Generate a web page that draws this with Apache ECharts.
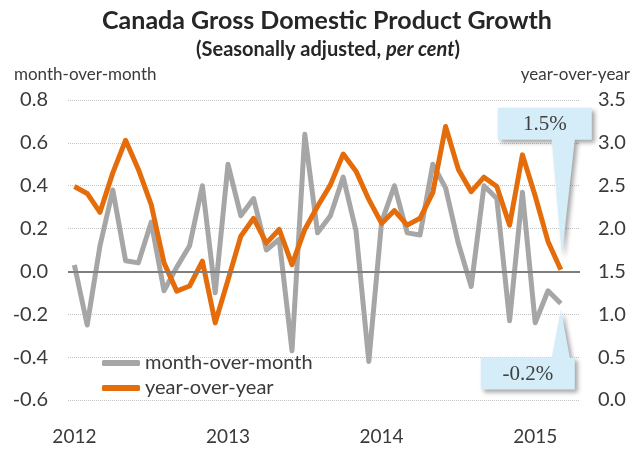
<!DOCTYPE html>
<html>
<head>
<meta charset="utf-8">
<script src="https://cdn.jsdelivr.net/npm/echarts@6/dist/echarts.min.js"></script>
<style>
  html, body { margin: 0; padding: 0; background: #fff; }
  #chart { width: 638px; height: 449px; }
</style>
</head>
<body>
<div id="chart"></div>
<script>
// monthly, Jan 2012 .. Apr 2015 (last slot left empty like the original)
const months = [
  "2012-01","2012-02","2012-03","2012-04","2012-05","2012-06","2012-07","2012-08","2012-09","2012-10","2012-11","2012-12",
  "2013-01","2013-02","2013-03","2013-04","2013-05","2013-06","2013-07","2013-08","2013-09","2013-10","2013-11","2013-12",
  "2014-01","2014-02","2014-03","2014-04","2014-05","2014-06","2014-07","2014-08","2014-09","2014-10","2014-11","2014-12",
  "2015-01","2015-02","2015-03","2015-04"
];
// month-over-month, left axis
const momValues = [0.03,-0.25,0.12,0.38,0.05,0.04,0.23,-0.09,0.02,0.12,0.40,-0.10,
  0.50,0.26,0.34,0.10,0.15,-0.37,0.64,0.18,0.26,0.44,0.19,-0.42,
  0.23,0.40,0.18,0.17,0.50,0.39,0.13,-0.07,0.40,0.34,-0.23,0.37,
  -0.24,-0.09,-0.15];
// year-over-year, right axis
const yoyValues = [2.49,2.41,2.19,2.65,3.03,2.69,2.28,1.60,1.27,1.33,1.62,0.90,
  1.40,1.91,2.12,1.83,1.99,1.58,1.99,2.26,2.51,2.87,2.67,2.34,
  2.06,2.21,2.04,2.12,2.42,3.19,2.69,2.43,2.60,2.49,2.04,2.86,
  2.38,1.85,1.52];
const seriesNames = ["month-over-month", "year-over-year"];
const calloutLabels = ["1.5%", "-0.2%"];

const FONT = "Lato";
const TXT = "#3a3a3a";
const HEAD = "#262626";
const GRAY = "#a6a6a6";
const ORANGE = "#e46c0a";

const chart = echarts.init(document.getElementById("chart"));

chart.setOption({
  animation: false,
  title: [
    {
      text: "Canada Gross Domestic Product Growth",
      left: 322, top: 3, textAlign: "center",
      textStyle: { fontFamily: FONT, fontSize: 25, fontWeight: "bold", color: HEAD }
    },
    {
      text: "{n|(Seasonally adjusted, }{i|per cent}{n|)}",
      left: 323, top: 35, textAlign: "center",
      textStyle: {
        rich: {
          n: { fontFamily: FONT, fontSize: 20, fontWeight: "bold", color: HEAD },
          i: { fontFamily: FONT, fontSize: 20, fontWeight: "bold", fontStyle: "italic", color: HEAD }
        }
      }
    },
    {
      text: seriesNames[0], left: 9, top: 61,
      textStyle: { fontFamily: FONT, fontSize: 17, fontWeight: "normal", color: TXT }
    },
    {
      text: seriesNames[1], right: 3, top: 61,
      textStyle: { fontFamily: FONT, fontSize: 17, fontWeight: "normal", color: TXT }
    }
  ],
  grid: { left: 68, right: 58, top: 100, bottom: 49 },
  legend: {
    left: 97, top: 348, orient: "vertical", itemGap: 5,
    itemWidth: 38, itemHeight: 6, icon: "roundRect",
    selectedMode: false,
    textStyle: { fontFamily: FONT, fontSize: 20, color: TXT },
    data: seriesNames
  },
  xAxis: {
    type: "category",
    data: months,
    boundaryGap: true,
    axisLine: { show: false },
    axisTick: { show: false },
    axisLabel: {
      interval: (idx) => idx % 12 === 0,
      formatter: (v) => v.slice(0, 4),
      margin: 27,
      fontFamily: FONT, fontSize: 19, color: TXT
    }
  },
  yAxis: [
    {
      type: "value", min: -0.6, max: 0.8, interval: 0.2,
      axisLine: { show: false }, axisTick: { show: false },
      axisLabel: {
        formatter: (v) => v.toFixed(1), margin: 20,
        fontFamily: FONT, fontSize: 20, color: TXT
      },
      splitLine: { lineStyle: { type: "dotted", color: "#c4c4c4", width: 1 } }
    },
    {
      type: "value", min: 0, max: 3.5, interval: 0.5,
      axisLine: { show: false }, axisTick: { show: false },
      axisLabel: {
        formatter: (v) => v.toFixed(1), margin: 18,
        fontFamily: FONT, fontSize: 20, color: TXT
      },
      splitLine: { show: false }
    }
  ],
  series: [
    {
      name: seriesNames[0], type: "line", yAxisIndex: 0,
      data: momValues, showSymbol: false, symbol: "none",
      color: GRAY,
      lineStyle: { width: 5, color: GRAY, join: "round" },
      z: 3,
      markLine: {
        silent: true, symbol: "none", label: { show: false },
        lineStyle: { type: "solid", color: "#7f7f7f", width: 2 },
        data: [{ yAxis: 0 }]
      }
    },
    {
      name: seriesNames[1], type: "line", yAxisIndex: 1,
      data: yoyValues, showSymbol: false, symbol: "none",
      color: ORANGE,
      lineStyle: { width: 5, color: ORANGE, join: "round" },
      z: 4
    }
  ]
});

// callouts anchored to the last data points
function callout(tip, boxDx, boxDy, boxW, boxH, baseX0, baseX1, down, label) {
  const bx = tip[0] + boxDx, by = tip[1] + boxDy;
  let pts;
  if (down) {
    // box above, tail pointing down to tip
    pts = [[bx, by], [bx + boxW, by], [bx + boxW, by + boxH],
      [tip[0] + baseX1, by + boxH], tip, [tip[0] + baseX0, by + boxH], [bx, by + boxH]];
  } else {
    // box below, tail pointing up to tip
    pts = [[bx, by], [tip[0] + baseX0, by], tip, [tip[0] + baseX1, by],
      [bx + boxW, by], [bx + boxW, by + boxH], [bx, by + boxH]];
  }
  return [
    {
      type: "polygon", z: 100,
      shape: { points: pts },
      style: {
        fill: "#d4edf9",
        shadowBlur: 4, shadowOffsetX: 3, shadowOffsetY: 3,
        shadowColor: "rgba(0,0,0,0.35)"
      }
    },
    {
      type: "text", z: 101,
      x: bx + boxW / 2, y: by + boxH / 2 + 1,
      style: {
        text: label, align: "center", verticalAlign: "middle",
        font: "21px 'Liberation Serif', 'DejaVu Serif', serif",
        fill: "#404040"
      }
    }
  ];
}

const last = yoyValues.length - 1;
const pYoy = chart.convertToPixel({ seriesIndex: 1 }, [last, yoyValues[last]]);
const pMom = chart.convertToPixel({ seriesIndex: 0 }, [last, momValues[last]]);
const tip1 = [pYoy[0] + 1, pYoy[1] - 14];
const tip2 = [pMom[0], pMom[1] + 6];

chart.setOption({
  graphic: [
    ...callout(tip1, -64, -148, 94, 32, -10, 13, true, calloutLabels[0]),
    ...callout(tip2, -80, 48, 94, 32, -9, 9, false, calloutLabels[1])
  ]
});
</script>
</body>
</html>
